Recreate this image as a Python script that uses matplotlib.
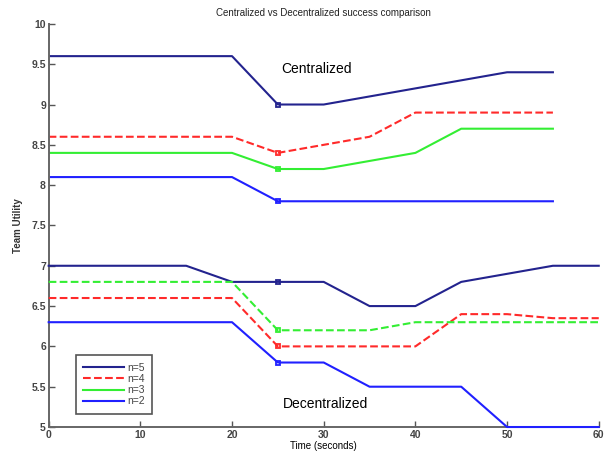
import matplotlib
matplotlib.use("Agg")
import matplotlib.pyplot as plt

plt.rcParams['font.family'] = ['Liberation Sans', 'DejaVu Sans']

# centralized runs (stop at 55 s)
t_c = [0, 20, 25, 30, 35, 40, 45, 50, 55]
c_n5 = [9.6, 9.6, 9.0, 9.0, 9.1, 9.2, 9.3, 9.4, 9.4]
c_n4 = [8.6, 8.6, 8.4, 8.5, 8.6, 8.9, 8.9, 8.9, 8.9]
c_n3 = [8.4, 8.4, 8.2, 8.2, 8.3, 8.4, 8.7, 8.7, 8.7]
c_n2 = [8.1, 8.1, 7.8, 7.8, 7.8, 7.8, 7.8, 7.8, 7.8]

# decentralized runs (up to 60 s)
t_d = [0, 15, 20, 25, 30, 35, 40, 45, 50, 55, 60]
d_n5 = [7.0, 7.0, 6.8, 6.8, 6.8, 6.5, 6.5, 6.8, 6.9, 7.0, 7.0]
d_n4 = [6.6, 6.6, 6.6, 6.0, 6.0, 6.0, 6.0, 6.4, 6.4, 6.35, 6.35]
d_n3 = [6.8, 6.8, 6.8, 6.2, 6.2, 6.2, 6.3, 6.3, 6.3, 6.3, 6.3]
d_n2 = [6.3, 6.3, 6.3, 5.8, 5.8, 5.5, 5.5, 5.5, 5.0, 5.0, 5.0]

labels = ['n=5', 'n=4', 'n=3', 'n=2']
colors = ['#23238e', '#ff2a2a', '#33ee33', '#2020ff']
mark_t = 25

fig = plt.figure(figsize=(6.16, 4.55), dpi=100)
ax = fig.add_axes([0.079, 0.0615, 0.893, 0.886])

cent = [c_n5, c_n4, c_n3, c_n2]
dec = [d_n5, d_n4, d_n3, d_n2]
cent_ls = ['-', '--', '-', '-']
dec_ls = ['-', '--', '--', '-']

for i in range(4):
    ax.plot(t_c, cent[i], ls=cent_ls[i], color=colors[i], lw=1.5, label=labels[i])
    ax.plot(t_d, dec[i], ls=dec_ls[i], color=colors[i], lw=1.5, clip_on=False, zorder=4)
    k = t_c.index(mark_t)
    ax.plot(mark_t, cent[i][k], 's', ms=3.5, mfc='none', mec=colors[i], mew=1.3)
    k = t_d.index(mark_t)
    ax.plot(mark_t, dec[i][k], 's', ms=3.5, mfc='none', mec=colors[i], mew=1.3)

ax.text(29.2, 9.44, 'Centralized', ha='center', va='center', fontsize=10)
ax.text(30.2, 5.29, 'Decentralized', ha='center', va='center', fontsize=10)

ax.set_xlim(0, 60)
ax.set_ylim(5, 10)
ax.set_xticks(range(0, 61, 10))
ax.set_yticks([5, 5.5, 6, 6.5, 7, 7.5, 8, 8.5, 9, 9.5, 10])
ax.set_yticklabels(['5', '5.5', '6', '6.5', '7', '7.5', '8', '8.5', '9', '9.5', '10'])
ax.tick_params(direction='in', length=4, labelsize=7.5, colors='#555555', width=1, pad=2)
for lab in ax.get_xticklabels() + ax.get_yticklabels():
    lab.set_fontweight('bold')
    lab.set_color('#444444')
ax.spines['top'].set_visible(False)
ax.spines['right'].set_visible(False)
for s in ['left', 'bottom']:
    ax.spines[s].set_color('#666666')
    ax.spines[s].set_linewidth(1.4)

ax.set_title('Centralized vs Decentralized success comparison', fontsize=7, pad=6, color='#222222')
ax.set_xlabel('Time (seconds)', fontsize=7, labelpad=1)
ax.set_ylabel('Team Utility', fontsize=7, labelpad=6, fontweight='bold', color='#333333')

leg = ax.legend(loc='lower left', bbox_to_anchor=(0.05, 0.033), fontsize=7.5,
                handlelength=3.9, handletextpad=0.3, labelspacing=0.12,
                borderpad=0.7, borderaxespad=0, fancybox=False, framealpha=1)
leg.get_frame().set_edgecolor('#555555')
leg.get_frame().set_linewidth(1.2)
for t in leg.get_texts():
    t.set_color('#444444')

fig.savefig('out.png', dpi=100)
